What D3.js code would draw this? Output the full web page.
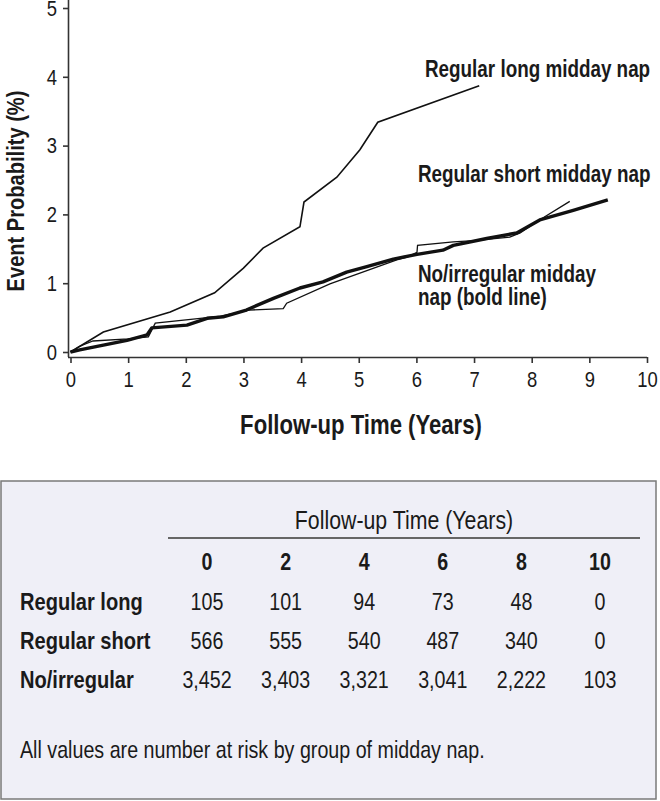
<!DOCTYPE html>
<html><head><meta charset="utf-8">
<script src="https://cdn.jsdelivr.net/npm/d3@7"></script>
<style>
html,body{margin:0;padding:0;background:#fff;}
svg{display:block;}
text{font-family:"Liberation Sans Narrow","Arial Narrow","Liberation Sans",Arial,sans-serif;fill:#1a1a1a;}
</style></head>
<body><svg id="c" width="660" height="801"></svg>
<script>
// ---- data ----
const xTicks = [0,1,2,3,4,5,6,7,8,9,10];
const yTicks = [0,1,2,3,4,5];
const longT  = [0, 0.57, 1.73, 2.5, 3.0, 3.34, 3.98, 4.05, 4.62, 5.02, 5.33, 7.09];
const longP  = [0, 0.29, 0.58, 0.86, 1.22, 1.51, 1.82, 2.18, 2.54, 2.94, 3.34, 3.87];
const shortT = [0, 0.15, 0.39, 1.0, 1.35, 1.47, 2.25, 2.6, 3.1, 3.69, 3.75, 4.5, 5.66, 5.84, 6.01, 6.02, 6.64, 7.0, 7.62, 7.8, 8.1, 8.66];
const shortP = [0, 0.08, 0.16, 0.19, 0.22, 0.42, 0.49, 0.52, 0.61, 0.63, 0.71, 0.99, 1.34, 1.38, 1.45, 1.55, 1.60, 1.62, 1.67, 1.73, 1.90, 2.19];
const noT    = [0, 0.16, 0.57, 0.98, 1.33, 1.41, 2.02, 2.37, 2.65, 3.05, 3.52, 3.98, 4.38, 4.79, 5.14, 5.6, 6.01, 6.46, 6.64, 7.22, 7.74, 8.14, 8.72, 9.32];
const noP    = [0, 0.03, 0.10, 0.17, 0.25, 0.35, 0.39, 0.49, 0.51, 0.61, 0.78, 0.93, 1.02, 1.16, 1.24, 1.35, 1.42, 1.48, 1.55, 1.65, 1.73, 1.92, 2.06, 2.21];
const seriesNames = ["Regular long midday nap", "Regular short midday nap", "No/irregular midday", "nap (bold line)"];
const tableYears = [0, 2, 4, 6, 8, 10];
const rowLabels = ["Regular long", "Regular short", "No/irregular"];
const riskLong  = ["105", "101", "94", "73", "48", "0"];
const riskShort = ["566", "555", "540", "487", "340", "0"];
const riskNo    = ["3,452", "3,403", "3,321", "3,041", "2,222", "103"];
const tableTitle = "Follow-up Time (Years)";
const footnote = "All values are number at risk by group of midday nap.";

const SX = 0.82; // condensed look
const svg = d3.select("#c");
const x = d3.scaleLinear().domain([0,10]).range([70.5,647]);
const y = d3.scaleLinear().domain([0,5]).range([352,8]);
const axisCol = "#333";

function txt(t, xx, yy, size, opts={}) {
  const el = svg.append("text")
    .attr("transform", `translate(${xx},${yy})${opts.rot?` rotate(${opts.rot})`:""} scale(${SX},1)`)
    .attr("font-size", size).attr("fill", opts.fill||"#1a1a1a")
    .attr("text-anchor", opts.anchor||"start").text(t);
  if (opts.bold) el.attr("font-weight","bold");
  return el;
}

// axes
const gx = svg.append("g").attr("transform","translate(0,357)")
  .call(d3.axisBottom(x).tickValues(xTicks).tickFormat(d3.format("d")).tickSize(6).tickSizeOuter(0).tickPadding(8));
gx.select(".domain").attr("d","M68,0.5H647");
const gy = svg.append("g").attr("transform","translate(68,0)")
  .call(d3.axisLeft(y).tickValues(yTicks).tickFormat(d3.format("d")).tickSize(5).tickSizeOuter(0).tickPadding(6));
gy.select(".domain").attr("d","M0.5,0V357");
[gx,gy].forEach(g=>{
  g.selectAll(".domain").attr("stroke",axisCol).attr("stroke-width",1.6);
  g.selectAll(".tick line").attr("stroke",axisCol).attr("stroke-width",1.6);
  g.selectAll(".tick text").attr("font-size",22.5).attr("font-family",null).attr("fill","#222")
    .each(function(){ const t=d3.select(this); const xx=+(t.attr("x")||0); t.attr("x", xx/SX).attr("transform",`scale(${SX},1)`); });
});

// axis titles
txt("Follow-up Time (Years)", 361, 434, 27, {bold:true, anchor:"middle"});
txt("Event Probability (%)", 24, 191, 24.5, {bold:true, anchor:"middle", rot:-90});

// curves
const line = d3.line().x(d=>x(d[0])).y(d=>y(d[1]));
const zip = (a,b)=>a.map((v,i)=>[v,b[i]]);
svg.append("path").attr("d",line(zip(longT,longP))).attr("fill","none").attr("stroke","#111").attr("stroke-width",1.6);
svg.append("path").attr("d",line(zip(noT,noP))).attr("fill","none").attr("stroke","#111").attr("stroke-width",3.4).attr("stroke-linejoin","round");
svg.append("path").attr("d",line(zip(shortT,shortP))).attr("fill","none").attr("stroke","#111").attr("stroke-width",1.3);

// curve labels
txt(seriesNames[0], 425, 77, 23, {bold:true});
txt(seriesNames[1], 418, 182, 23, {bold:true});
txt(seriesNames[2], 418, 282, 23, {bold:true});
txt(seriesNames[3], 418, 305, 23, {bold:true});

// table
svg.append("rect").attr("x",1).attr("y",481).attr("width",655).attr("height",318)
  .attr("fill","#efeff7").attr("stroke","#7a7a7a").attr("stroke-width",1.5);
const cx = d3.scalePoint().domain(tableYears).range([207,600]);
txt(tableTitle, 404, 529, 26, {anchor:"middle", fill:"#222"});
svg.append("line").attr("x1",168).attr("x2",640).attr("y1",538).attr("y2",538).attr("stroke","#666").attr("stroke-width",2);
tableYears.forEach(d=>txt(String(d), cx(d), 570, 24, {bold:true, anchor:"middle", fill:"#222"}));
const rows = [riskLong, riskShort, riskNo];
const rowY = [610, 649, 688];
rows.forEach((r,i)=>{
  txt(rowLabels[i], 20, rowY[i], 24.5, {bold:true, fill:"#222"});
  r.forEach((d,j)=>txt(d, cx(tableYears[j]), rowY[i], 24, {anchor:"middle", fill:"#222"}));
});
txt(footnote, 20, 758, 24, {fill:"#222"});
</script></body></html>
